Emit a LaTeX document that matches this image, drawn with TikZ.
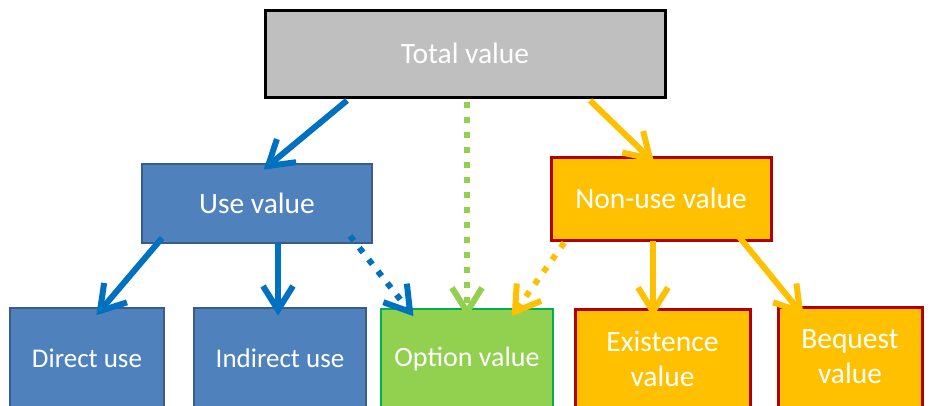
\documentclass[tikz,border=0pt]{standalone}
\usepackage{fontspec}
\setmainfont{Carlito}
\usetikzlibrary{decorations.markings}
\definecolor{boxblue}{HTML}{4F81BD}
\definecolor{boxblueline}{HTML}{385D8A}
\definecolor{boxgreen}{HTML}{92D050}
\definecolor{boxgreenline}{HTML}{00B050}
\definecolor{boxyellow}{HTML}{FFC000}
\definecolor{boxred}{HTML}{B00000}
\definecolor{boxgray}{HTML}{BFBFBF}
\definecolor{arrblue}{HTML}{0070C0}
\definecolor{arrgreen}{HTML}{92D050}
\definecolor{arryellow}{HTML}{FFC000}
\tikzset{
  basebox/.style={rectangle, inner sep=0pt, align=center, text=white,
    font=\fontsize{29.5}{35}\selectfont},
  graybox/.style={basebox, fill=boxgray, draw=black, line width=3pt},
  bluebox/.style={basebox, fill=boxblue, draw=boxblueline, line width=2pt},
  greenbox/.style={basebox, fill=boxgreen, draw=boxgreenline, line width=2.5pt},
  yellowbox/.style={basebox, fill=boxyellow, draw=boxred, line width=3pt},
  arr/.style={line width=6pt, shorten >=3pt,
    postaction={decorate, decoration={markings,
      mark=at position 1 with {\draw[solid, line width=6pt, line join=miter, line cap=butt, shorten >=0pt]
        (-24pt,15pt) -- (0pt,0pt) -- (-24pt,-15pt);}}}},
  dotline/.style={dash pattern=on 6pt off 9pt}
}
\begin{document}
\begin{tikzpicture}[x=1pt,y=-1pt]
\useasboundingbox (0,0) rectangle (930,405);
\clip (0,0) rectangle (930,405);
\fill[white] (0,0) rectangle (930,405);

\node[graybox, minimum width=400pt, minimum height=87pt] (total) at (465,53.5) {Total value};
\node[bluebox, minimum width=230pt, minimum height=79pt] (use) at (257,203.5) {Use value};
\node[yellowbox, minimum width=220pt, minimum height=83pt] (nonuse) at (661,198.5) {Non-use value};

\node[bluebox, minimum width=154pt, minimum height=100pt, font=\fontsize{27}{32}\selectfont] (direct) at (87,358) {Direct use};
\node[bluebox, minimum width=172pt, minimum height=100pt, font=\fontsize{27}{32}\selectfont] (indirect) at (280,358) {Indirect use};
\node[greenbox, minimum width=172pt, minimum height=100pt, font=\fontsize{28}{32}\selectfont] (option) at (467,359) {Option value};
\node[yellowbox, minimum width=175pt, minimum height=100pt] (existence) at (662.5,359) {Existence\\value};
\node[yellowbox, minimum width=144pt, minimum height=100pt] (bequest) at (850,357) {Bequest\\value};

% arrows from total
\draw[arr, arrblue] ([xshift=-118pt,yshift=-2pt]total.south) -- ([xshift=11pt,yshift=-3pt]use.north);
\draw[arr, arrgreen, dotline] ([xshift=2pt,yshift=-3pt]total.south) -- ([yshift=-4pt]option.north);
\draw[arr, arryellow] ([xshift=125pt,yshift=-2pt]total.south) -- ([xshift=-11pt,yshift=-3pt]nonuse.north);

% arrows from use
\draw[arr, arrblue] ([xshift=-95pt,yshift=6pt]use.south) -- ([xshift=13pt,yshift=-4pt]direct.north);
\draw[arr, arrblue] ([xshift=21pt,yshift=1pt]use.south) -- ([xshift=-2pt,yshift=-3pt]indirect.north);
\draw[arr, arrblue, dotline] ([xshift=93pt,yshift=8pt]use.south) -- ([xshift=-57pt,yshift=-4pt]option.north);

% arrows from non-use
\draw[arr, arryellow, dotline] ([xshift=-88pt,yshift=11pt]nonuse.south) -- ([xshift=48pt,yshift=-4pt]option.north);
\draw[arr, arryellow] ([xshift=-8pt,yshift=1pt]nonuse.south) -- ([xshift=-9.5pt,yshift=-4pt]existence.north);
\draw[arr, arryellow] ([xshift=77pt,yshift=6pt]nonuse.south) -- ([xshift=-50pt,yshift=-6pt]bequest.north);
\end{tikzpicture}
\end{document}
